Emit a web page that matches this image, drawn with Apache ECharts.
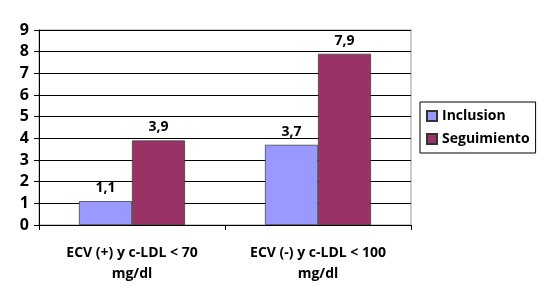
<!DOCTYPE html>
<html>
<head>
<meta charset="utf-8">
<script src="https://cdn.jsdelivr.net/npm/echarts@6/dist/echarts.min.js"></script>
<style>
  html, body { margin: 0; padding: 0; background: #fff; }
  #chart { width: 547px; height: 304px; }
</style>
</head>
<body>
<div id="chart"></div>
<script>
var categories = ['ECV (+) y c-LDL < 70\nmg/dl', 'ECV (-) y c-LDL < 100\nmg/dl'];
var inclusion = [1.1, 3.7];
var seguimiento = [3.9, 7.9];
var yTicks = [0, 1, 2, 3, 4, 5, 6, 7, 8, 9];

var chart = echarts.init(document.getElementById('chart'));
var font = 'Open Sans';

function label() {
  return {
    show: true,
    position: 'top',
    distance: 6,
    fontFamily: font,
    fontWeight: 'bold',
    fontSize: 14,
    color: '#000',
    formatter: function (p) { return String(p.value).replace('.', ','); }
  };
}

chart.setOption({
  backgroundColor: '#fff',
  animation: false,
  grid: { left: 39, right: 136, top: 30, bottom: 79, show: true, borderColor: '#999', borderWidth: 1 },
  legend: {
    orient: 'vertical',
    left: 420,
    top: 102,
    itemWidth: 10,
    itemHeight: 10,
    itemGap: 9,
    padding: [7, 6, 7, 6],
    borderColor: '#000',
    borderWidth: 1,
    icon: 'rect',
    textStyle: { fontFamily: font, fontWeight: 'bold', fontSize: 14, color: '#000' },
    data: ['Inclusion', 'Seguimiento']
  },
  xAxis: {
    type: 'category',
    data: categories,
    axisLine: { lineStyle: { color: '#000' } },
    axisTick: { show: true, length: 5, lineStyle: { color: '#000' } },
    axisLabel: { fontFamily: font, fontWeight: 'bold', fontSize: 14, color: '#000', lineHeight: 21, margin: 18 }
  },
  yAxis: {
    type: 'value',
    min: yTicks[0],
    max: yTicks[yTicks.length - 1],
    interval: 1,
    axisLine: { show: true, lineStyle: { color: '#000' } },
    axisTick: { show: true, length: 5, lineStyle: { color: '#000' } },
    axisLabel: { fontFamily: font, fontWeight: 'bold', fontSize: 16, color: '#000', margin: 10 },
    splitLine: { lineStyle: { color: '#000' } }
  },
  series: [
    {
      name: 'Inclusion',
      type: 'bar',
      data: inclusion,
      barWidth: 53,
      barGap: '0%',
      itemStyle: { color: '#9999FF', borderColor: '#333', borderWidth: 0.7 },
      label: label()
    },
    {
      name: 'Seguimiento',
      type: 'bar',
      data: seguimiento,
      barWidth: 53,
      barGap: '0%',
      itemStyle: { color: '#993366', borderColor: '#333', borderWidth: 0.7 },
      label: label()
    }
  ]
});
</script>
</body>
</html>
